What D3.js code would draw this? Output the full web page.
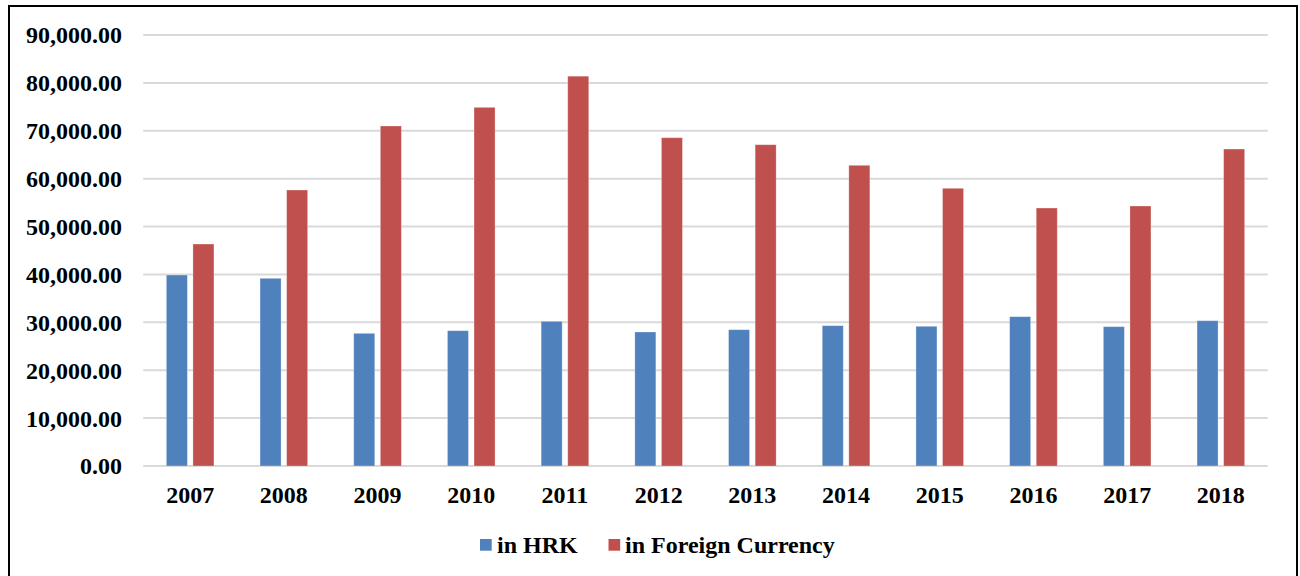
<!DOCTYPE html>
<html>
<head>
<meta charset="utf-8">
<script src="https://cdn.jsdelivr.net/npm/d3@7"></script>
<style>
  html, body { margin: 0; padding: 0; background: #fff; }
  svg { display: block; }
  text { font-family: "Liberation Serif", "Times New Roman", serif; font-weight: bold; fill: #000; }
</style>
</head>
<body>
<svg id="chart" width="1300" height="576"></svg>
<script>
const years = ["2007","2008","2009","2010","2011","2012","2013","2014","2015","2016","2017","2018"];
const seriesNames = ["in HRK", "in Foreign Currency"];
const hrkValues = [39880, 39190, 27700, 28250, 30210, 27980, 28460, 29300, 29170, 31180, 29090, 30340];
const foreignValues = [46350, 57630, 71000, 74890, 81400, 68550, 67090, 62790, 57990, 53870, 54290, 66190];
const yTicks = [0, 10000, 20000, 30000, 40000, 50000, 60000, 70000, 80000, 90000];
const colors = ["#4F81BD", "#C0504D"];

const svg = d3.select("#chart");
const plot = { left: 143.3, right: 1267.7, top: 35, bottom: 466 };
const FS = 24;

// outer frame
svg.append("rect")
  .attr("x", 9).attr("y", 6).attr("width", 1288).attr("height", 620)
  .attr("fill", "none").attr("stroke", "#000").attr("stroke-width", 2);

const y = d3.scaleLinear().domain([0, 90000]).range([plot.bottom, plot.top]);
const x0 = d3.scaleBand().domain(years).range([plot.left, plot.right]).paddingInner(0.492).paddingOuter(0.246);
const x1 = d3.scaleBand().domain(seriesNames).range([0, x0.bandwidth()]).paddingInner(0.21);

// gridlines
svg.append("g").selectAll("line").data(yTicks).join("line")
  .attr("x1", plot.left).attr("x2", plot.right)
  .attr("y1", d => y(d)).attr("y2", d => y(d))
  .attr("stroke", "#d9d9d9").attr("stroke-width", 2);

// y axis labels
const fmt = d3.format(",.2f");
const yAxis = d3.axisLeft(y).tickValues(yTicks).tickFormat(fmt).tickSize(0).tickPadding(0);
const yg = svg.append("g").attr("transform", `translate(122,0)`).call(yAxis);
yg.select(".domain").remove();
yg.selectAll("text").attr("font-size", FS).attr("font-family", "Liberation Serif").attr("font-weight", "bold").attr("fill", "#000").attr("dy", "0.33em");

// bars
const data = years.map((yr, i) => ({ year: yr, vals: [hrkValues[i], foreignValues[i]] }));
const groups = svg.append("g").selectAll("g").data(data).join("g")
  .attr("transform", d => `translate(${x0(d.year)},0)`);
groups.selectAll("rect").data(d => d.vals.map((v, j) => ({ key: seriesNames[j], v, j })))
  .join("rect")
  .attr("x", d => x1(d.key))
  .attr("width", x1.bandwidth())
  .attr("y", d => y(d.v))
  .attr("height", d => y(0) - y(d.v))
  .attr("fill", d => colors[d.j])
  .attr("stroke", "#fff").attr("stroke-opacity", 0.35).attr("stroke-width", 0.8);

// x axis labels
const xAxis = d3.axisBottom(x0).tickSize(0).tickPadding(0);
const xg = svg.append("g").attr("transform", `translate(0,${plot.bottom})`).call(xAxis);
xg.select(".domain").remove();
xg.selectAll("text").attr("font-size", FS).attr("font-family", "Liberation Serif").attr("font-weight", "bold").attr("fill", "#000")
  .attr("y", 36.5).attr("dy", 0);

// legend
const legendItems = [
  { name: seriesNames[0], color: colors[0], sx: 480, tx: 497 },
  { name: seriesNames[1], color: colors[1], sx: 608.5, tx: 625 }
];
const lg = svg.append("g");
legendItems.forEach(it => {
  lg.append("rect").attr("x", it.sx).attr("y", 539).attr("width", 11.7).attr("height", 11.7).attr("fill", it.color);
  lg.append("text").attr("x", it.tx).attr("y", 552.5).attr("font-size", FS).text(it.name);
});
</script>
</body>
</html>
